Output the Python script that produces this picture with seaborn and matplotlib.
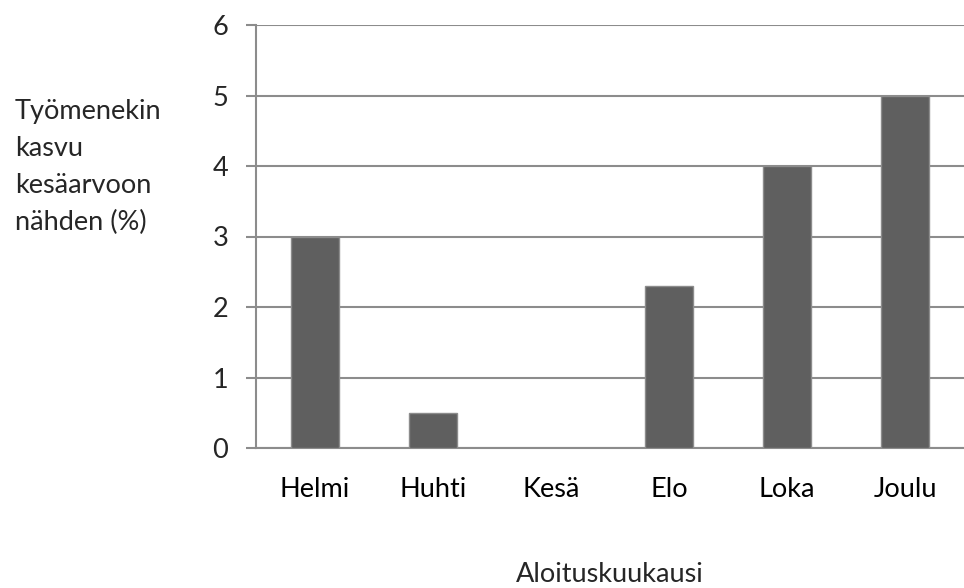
import matplotlib
matplotlib.use("Agg")
import matplotlib.pyplot as plt
import seaborn as sns
import pandas as pd
import numpy as np

categories = ["Helmi", "Huhti", "Kesä", "Elo", "Loka", "Joulu"]
values = [3.0, 0.5, 0.0, 2.3, 4.0, 5.0]
y_ticks = [0, 1, 2, 3, 4, 5, 6]
y_label = "Työmenekin\nkasvu\nkesäarvoon\nnähden (%)"
x_label = "Aloituskuukausi"

sns.set_theme(style="white")
plt.rcParams['font.family'] = ['Lato', 'DejaVu Sans']

FS = 19.5

df = pd.DataFrame({"kk": categories, "arvo": values})

fig = plt.figure(figsize=(9.64, 5.88), dpi=100)
ax = fig.add_axes([256/964, 1-448/588, 1-256/964, (448-25)/588])

sns.barplot(data=df, x="kk", y="arvo", order=categories, color="#5f5f5f",
            width=0.4, edgecolor="#8c8c8c", linewidth=1.0, saturation=1, ax=ax, zorder=3)

ax.set_xlim(-0.5, len(categories) - 0.5)
ax.set_ylim(0, 6)
ax.set_yticks(y_ticks)
ax.set_yticklabels([str(t) for t in y_ticks])
ax.yaxis.grid(True, color="#8c8c8c", linewidth=1.5, zorder=0)
ax.set_axisbelow(True)

for s in ["top", "right"]:
    ax.spines[s].set_visible(False)
for s in ["left", "bottom"]:
    ax.spines[s].set_color("#8c8c8c")
    ax.spines[s].set_linewidth(1.5)

ax.set_xticks(np.arange(-0.5, len(categories), 1.0), minor=True)
ax.tick_params(axis="x", which="major", length=0, pad=21, labelsize=FS, colors="black")
ax.tick_params(axis="x", which="minor", length=7, width=1.5, color="#8c8c8c", direction="out")
ax.tick_params(axis="y", length=7, width=1.5, color="#8c8c8c", pad=13, labelsize=FS, left=True, direction="out")

ax.set_xlabel("")
ax.set_ylabel("")
fig.text(15/964, 1-167/588, y_label, ha="left", va="center", fontsize=FS,
         linespacing=1.6, multialignment="left")
fig.text(610/964, 1-575/588, x_label, ha="center", va="center", fontsize=FS)

fig.savefig("out.png", dpi=100)
